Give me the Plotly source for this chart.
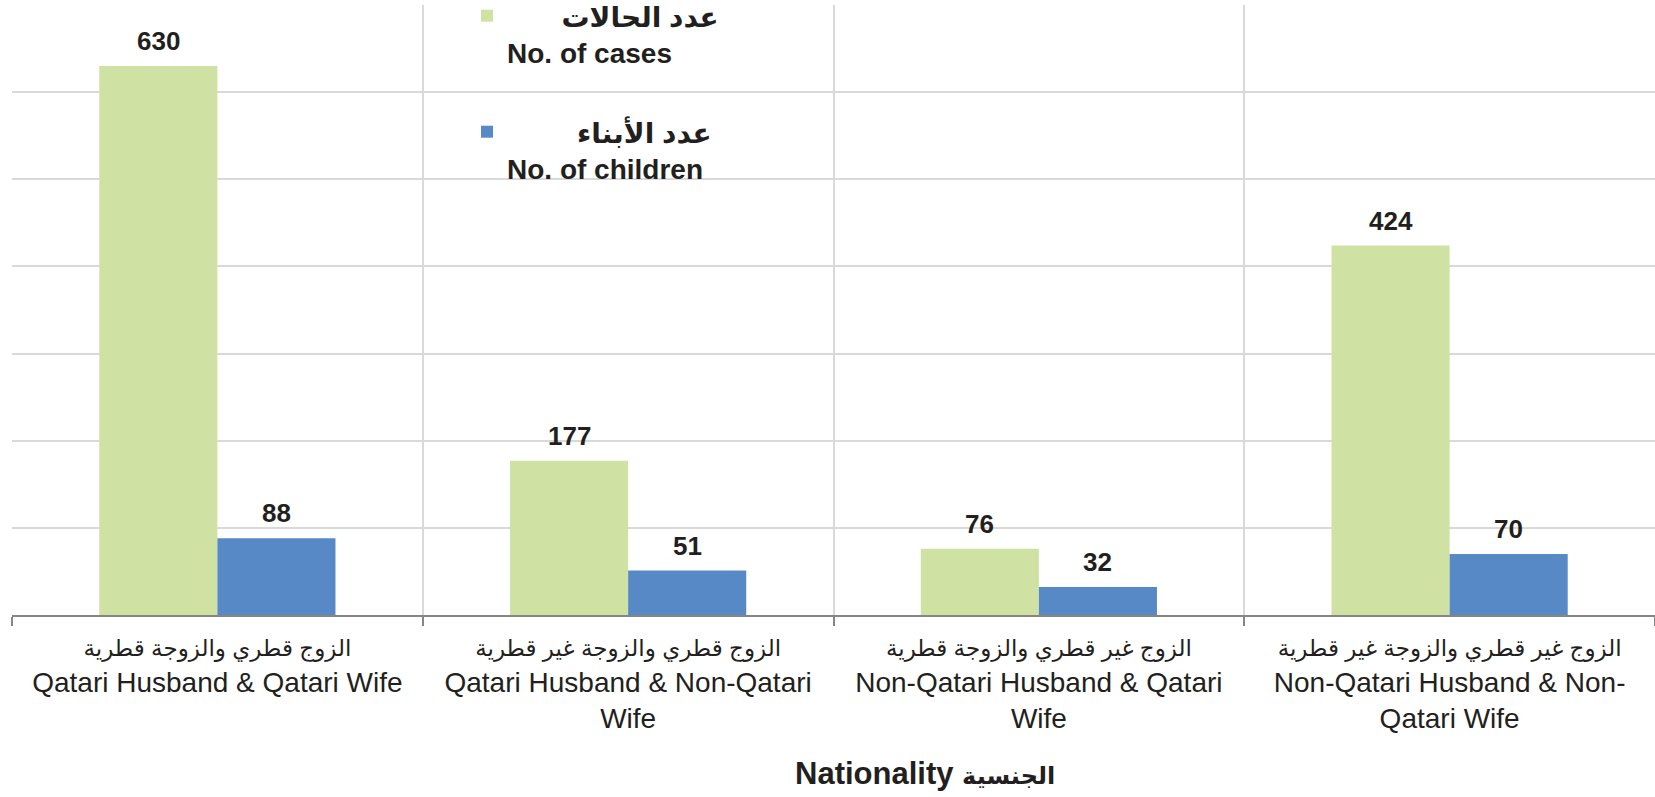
import plotly.graph_objects as go

categories_ar = [
    "الزوج قطري والزوجة قطرية",
    "الزوج قطري والزوجة غير قطرية",
    "الزوج غير قطري والزوجة قطرية",
    "الزوج غير قطري والزوجة غير قطرية",
]
categories_en = [
    "Qatari Husband & Qatari Wife",
    "Qatari Husband & Non-Qatari<br>Wife",
    "Non-Qatari Husband & Qatari<br>Wife",
    "Non-Qatari Husband & Non-<br>Qatari Wife",
]
cases = [630, 177, 76, 424]
children = [88, 51, 32, 70]
series_ar = ["عدد الحالات", "عدد الأبناء"]
series_en = ["No. of cases", "No. of children"]
title_en = "Nationality"
title_ar = "الجنسية"

labels = [f"<span style='font-size:23px'>{a}</span><br>{e}" for a, e in zip(categories_ar, categories_en)]
NB = "\u00a0"
names = [f"<b>{NB * 7}{series_ar[0]}<br>{series_en[0]}</b>",
         f"<b>{NB * 9}{series_ar[1]}<br>{series_en[1]}</b>"]

W, H = 1655, 797
ML, MR, MT, MB = 12, 0, 5, 182
BARGAP = 0.425
FONT = "Liberation Sans, Arial, DejaVu Sans, sans-serif"
GREEN = "#D0E2A3"
BLUE = "#5889C7"
TXT = "#231F20"

fig = go.Figure()
fig.add_trace(go.Bar(x=labels, y=cases, name=names[0], marker_color=GREEN,
                     marker_line_width=0, legend="legend"))
fig.add_trace(go.Bar(x=labels, y=children, name=names[1], marker_color=BLUE,
                     marker_line_width=0, legend="legend2"))

plot_w = W - ML - MR
plot_h = H - MT - MB
bar_w = plot_w / len(labels) * (1 - BARGAP) / 2
annotations = []
for vals, sh in ((cases, -bar_w / 2), (children, bar_w / 2)):
    for lab, v in zip(labels, vals):
        annotations.append(dict(x=lab, y=v, xref="x", yref="y", text=f"<b>{v}</b>",
                                showarrow=False, xshift=sh, yanchor="bottom", yshift=8,
                                font=dict(size=26, color=TXT, family=FONT)))
annotations.append(dict(x=(925 - ML) / plot_w, y=-(774 - 615) / plot_h, xref="paper", yref="paper",
                        text=f"<b>{title_en} <span style='font-size:24px'>{title_ar}</span></b>",
                        showarrow=False, xanchor="center", yanchor="middle",
                        font=dict(size=31, color=TXT, family=FONT)))

leg_common = dict(xanchor="left", yanchor="top", bgcolor="rgba(0,0,0,0)", valign="top",
                  font=dict(size=28, color=TXT, family=FONT))
fig.update_layout(
    width=W, height=H, autosize=False,
    margin=dict(l=ML, r=MR, t=MT, b=MB, autoexpand=False),
    paper_bgcolor="white", plot_bgcolor="white",
    barmode="group", bargap=BARGAP, bargroupgap=0,
    showlegend=True,
    legend=dict(x=(467 - ML) / plot_w, y=1 + 14 / plot_h, **leg_common),
    legend2=dict(x=(467 - ML) / plot_w, y=1 - (107 - MT) / plot_h, **leg_common),
    annotations=annotations,
    xaxis=dict(type="category", showgrid=True, gridcolor="#D9D9D9", gridwidth=1.5,
               tickson="boundaries", ticks="outside", ticklen=9, tickcolor="#868686", tickwidth=1.5,
               showline=True, linecolor="#868686", linewidth=2, tickangle=0, automargin=False,
               ticklabelstandoff=5,
               tickfont=dict(size=28, color=TXT, family=FONT)),
    yaxis=dict(range=[0, 700], dtick=100, showticklabels=False, showgrid=True,
               gridcolor="#D9D9D9", gridwidth=1.5, zeroline=False, ticks="", automargin=False),
)
fig.write_html("out.html", config={"displayModeBar": False},
               post_script="document.body.style.margin='0';")
